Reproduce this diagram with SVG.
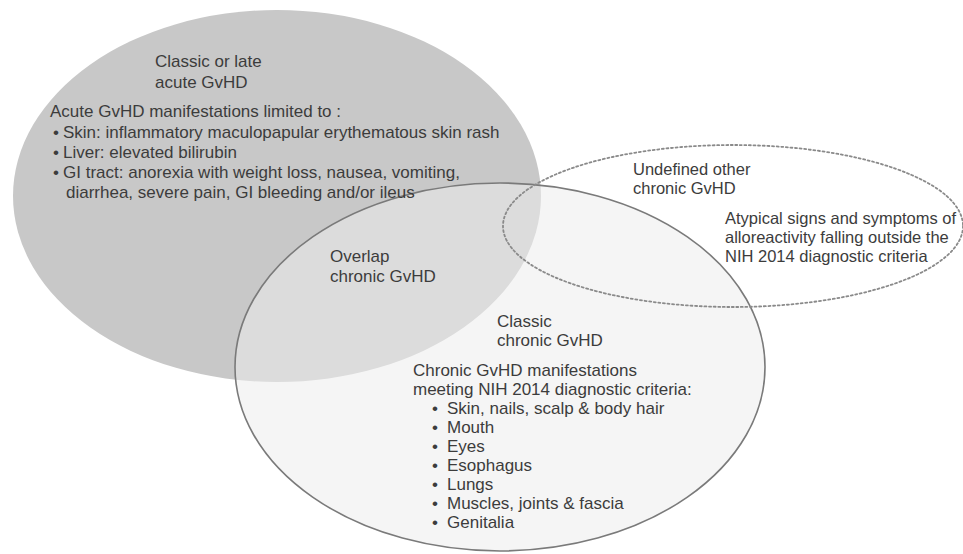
<svg xmlns="http://www.w3.org/2000/svg" width="963" height="554" viewBox="0 0 963 554">
<style>
  .t { font-family: "Liberation Sans", Arial, sans-serif; font-size: 17px; fill: #3c3c3c; }
  .t2 { font-size: 16.5px; }
  .acute { fill: #c8c8c8; stroke: none; }
  .chronic { fill: #ececec; fill-opacity: 0.54; stroke: #7a7a7a; stroke-width: 1.6; }
  .undef { fill: none; stroke: #8a8a8a; stroke-width: 1.8; stroke-dasharray: 2 2.6; stroke-linecap: round; }
</style>
<rect x="0" y="0" width="963" height="554" fill="#ffffff"/>
<g id="acute-gvhd">
  <ellipse class="acute" cx="277" cy="196" rx="264" ry="186"/>
</g>
<g id="classic-chronic-gvhd">
  <ellipse class="chronic" cx="500" cy="367" rx="265" ry="184"/>
</g>
<g id="undefined-chronic-gvhd">
  <ellipse class="undef" cx="733" cy="226" rx="230" ry="81"/>
</g>
<g id="connectors"></g>
<g id="acute-gvhd-label" class="t">
  <text x="155" y="67">Classic or late</text>
  <text x="155" y="88">acute GvHD</text>
  <text x="50" y="117">Acute GvHD manifestations limited to :</text>
  <text y="138"><tspan x="53">•</tspan><tspan x="63">Skin: inflammatory maculopapular erythematous skin rash</tspan></text>
  <text y="158"><tspan x="53">•</tspan><tspan x="63">Liver: elevated bilirubin</tspan></text>
  <text y="178"><tspan x="53">•</tspan><tspan x="63">GI tract: anorexia with weight loss, nausea, vomiting,</tspan></text>
  <text x="66" y="198">diarrhea, severe pain, GI bleeding and/or ileus</text>
</g>
<g id="overlap-label" class="t">
  <text x="330" y="262">Overlap</text>
  <text x="330" y="282">chronic GvHD</text>
</g>
<g id="undefined-chronic-gvhd-label" class="t t2">
  <text x="633" y="175">Undefined other</text>
  <text x="633" y="194">chronic GvHD</text>
  <text x="725" y="224">Atypical signs and symptoms of</text>
  <text x="725" y="243">alloreactivity falling outside the</text>
  <text x="725" y="262">NIH 2014 diagnostic criteria</text>
</g>
<g id="classic-chronic-gvhd-label" class="t">
  <text x="497" y="327">Classic</text>
  <text x="497" y="346">chronic GvHD</text>
  <text x="413" y="376">Chronic GvHD manifestations</text>
  <text x="413" y="395">meeting NIH 2014 diagnostic criteria:</text>
  <text y="414"><tspan x="432">•</tspan><tspan x="447">Skin, nails, scalp &amp; body hair</tspan></text>
  <text y="433"><tspan x="432">•</tspan><tspan x="447">Mouth</tspan></text>
  <text y="452"><tspan x="432">•</tspan><tspan x="447">Eyes</tspan></text>
  <text y="471"><tspan x="432">•</tspan><tspan x="447">Esophagus</tspan></text>
  <text y="490"><tspan x="432">•</tspan><tspan x="447">Lungs</tspan></text>
  <text y="509"><tspan x="432">•</tspan><tspan x="447">Muscles, joints &amp; fascia</tspan></text>
  <text y="528"><tspan x="432">•</tspan><tspan x="447">Genitalia</tspan></text>
</g>
</svg>
